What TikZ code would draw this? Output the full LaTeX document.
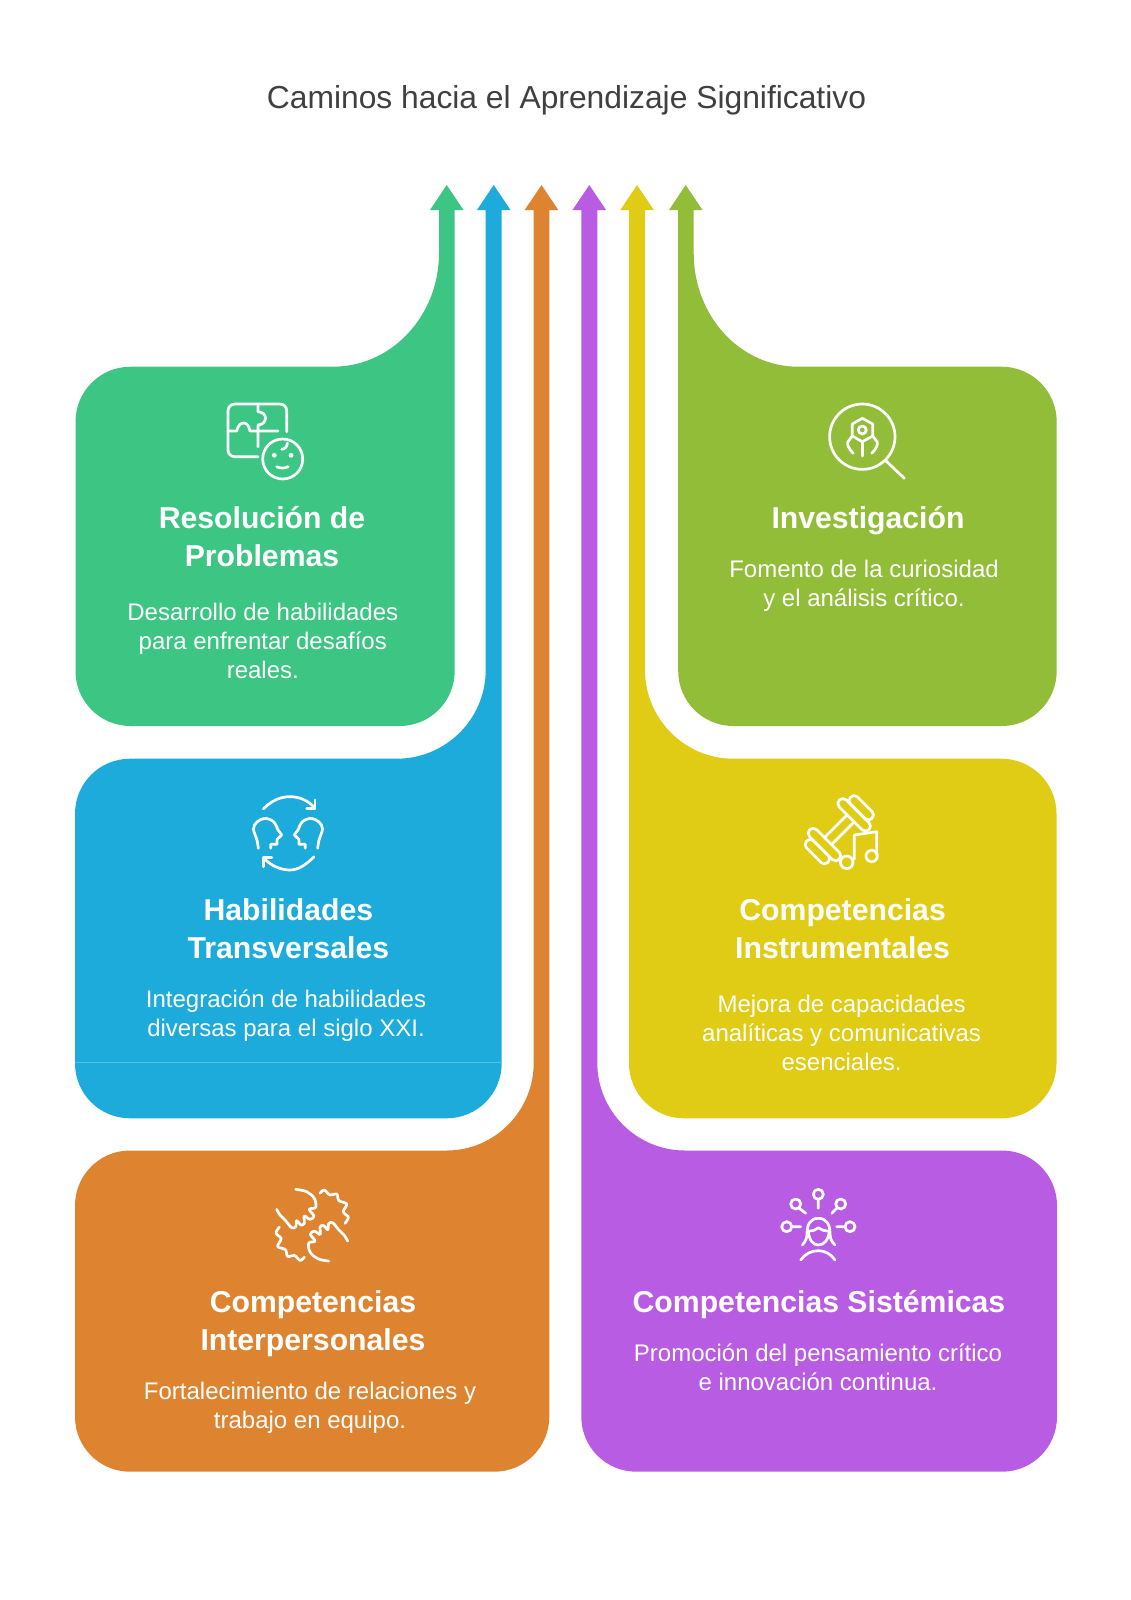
\documentclass[tikz,border=0pt]{standalone}
\usepackage{fontspec}
\setmainfont{Liberation Sans}
\definecolor{boxgreen}{HTML}{3CC583}
\definecolor{boxblue}{HTML}{1DABDB}
\definecolor{boxorange}{HTML}{DE8431}
\definecolor{boxpurple}{HTML}{B75CE3}
\definecolor{boxyellow}{HTML}{E0CC14}
\definecolor{boxlime}{HTML}{92BD39}
\tikzset{
  titletext/.style={text=black!75,inner sep=0pt,font=\fontsize{31.8}{37}\selectfont},
  headtext/.style={text=white,inner sep=0pt,align=center,font=\bfseries\fontsize{30.2}{38.5}\selectfont},
  bodytext/.style={text=white,inner sep=0pt,align=center,font=\fontsize{24}{28.7}\selectfont},
  iconline/.style={draw=white,line width=2.7pt,line cap=round,line join=round},
}
\begin{document}
\begin{tikzpicture}[x=1pt,y=-1pt]
\useasboundingbox (0,0) rectangle (1131,1600);
\node[titletext] (title) at (566.5,100) {Caminos hacia el Aprendizaje Significativo};
% green shape
\fill[boxgreen] (446.7,185) -- (463.5,210) -- (454.7,210) [rounded corners=55pt] -- (454.7,726) -- (75.5,726) -- (75.5,366.7) [sharp corners] -- (333,366.7)
  .. controls (391.5,366.7) and (439,316) .. (439,253) -- (439,210) -- (430,210) -- cycle;
% blue shape
\fill[boxblue] (493.7,185) -- (510.5,210) -- (501.7,210) [rounded corners=55pt] -- (501.7,1118.3) -- (75,1118.3) -- (75,758.7) [sharp corners] -- (396.7,758.7)
  .. controls (445.8,758.7) and (485.7,719) .. (485.7,670) -- (485.7,210) -- (477,210) -- cycle;
\draw[white!25!boxblue,line width=0.8pt] (75,1062.3) -- (501.7,1062.3);
% orange shape
\fill[boxorange] (541.5,185) -- (558.3,210) -- (549.3,210) [rounded corners=55pt] -- (549.3,1471.7) -- (75,1471.7) -- (75,1150.5) [sharp corners] -- (446.7,1150.5)
  .. controls (494.6,1150.5) and (533.7,1111) .. (533.7,1063) -- (533.7,210) -- (524.7,210) -- cycle;
% purple shape
\fill[boxpurple] (589.3,185) -- (606,210) -- (597.3,210) -- (597.3,1063)
  .. controls (597.3,1111) and (636.5,1150.5) .. (685,1150.5) [rounded corners=55pt] -- (1057,1150.5) -- (1057,1471.7) -- (581.3,1471.7) [sharp corners] -- (581.3,210) -- (572.5,210) -- cycle;
% yellow shape
\fill[boxyellow] (637,185) -- (653.8,210) -- (645,210) -- (645,670)
  .. controls (645,719) and (685,758.7) .. (733,758.7) [rounded corners=55pt] -- (1056.5,758.7) -- (1056.5,1118.3) -- (629,1118.3) [sharp corners] -- (629,210) -- (620.3,210) -- cycle;
% lime shape
\fill[boxlime] (685.7,185) -- (702.5,210) -- (693.7,210) -- (693.7,253)
  .. controls (693.7,316) and (740,366.7) .. (798.3,366.7) [rounded corners=55pt] -- (1056.7,366.7) -- (1056.7,726) -- (678.2,726) [sharp corners] -- (678.2,210) -- (669,210) -- cycle;
% texts
\node[headtext] (reshead) at (262,536.5) {Resolución de\\Problemas};
\node[bodytext] (resbody) at (262.8,641) {Desarrollo de habilidades\\para enfrentar desafíos\\reales.};
\node[headtext] (habhead) at (288.4,928.5) {Habilidades\\Transversales};
\node[bodytext] (habbody) at (286,1015.5) {Integración de habilidades\\diversas para el siglo XXI.};
\node[headtext] (comhead) at (313,1323.5) {Competencias\\Interpersonales};
\node[bodytext] (combody) at (310,1408) {Fortalecimiento de relaciones y\\trabajo en equipo.};
\node[headtext] (invhead) at (868,520.5) {Investigación};
\node[bodytext] (invbody) at (864,586) {Fomento de la curiosidad\\y el análisis crítico.};
\node[headtext] (inshead) at (842.6,928.5) {Competencias\\Instrumentales};
\node[bodytext] (insbody) at (841.6,1033) {Mejora de capacidades\\analíticas y comunicativas\\esenciales.};
\node[headtext] (sishead) at (819,1305) {Competencias Sistémicas};
\node[bodytext] (sisbody) at (818,1367.5) {Promoción del pensamiento crítico\\e innovación continua.};
% puzzle and face
\draw[iconline] (286.7,431.7) -- (286.7,411) .. controls (286.7,407) and (284,404) .. (280,404) -- (235,404) .. controls (231,404) and (228,407) .. (228,411) -- (228,450) .. controls (228,454) and (231,456.7) .. (235,456.7) -- (258,456.7);
\draw[iconline] (228,431) -- (236.7,431) .. controls (238,425) and (241,423) .. (243.5,423) .. controls (247,423) and (249,426) .. (250,431) -- (278,431);
\draw[iconline] (258,446.7) -- (258,425) .. controls (263,425) and (265.5,421) .. (265.5,418) .. controls (265.5,415) and (263,412) .. (258,411.7) -- (258,404);
\draw[iconline] (282.7,459) circle (20);
\fill[white] (274.3,455.3) circle (2.4) (291,455.3) circle (2.4);
\draw[iconline] (276.7,466.7) .. controls (280,468.5) and (285,468.5) .. (288.3,466.7);
\draw[iconline] (281.7,449.3) .. controls (285,449) and (287.5,446.5) .. (287.3,443);
% magnifier and virus
\draw[iconline] (862.3,436.7) circle (32.7);
\draw[iconline] (885,460) -- (904.3,478.3);
\draw[iconline] (862.3,418.3) -- (872.7,424) -- (872.7,436) -- (862.3,441.7) -- (852.3,436) -- (852.3,424) -- cycle;
\draw[iconline] (862.3,430) circle (4);
\draw[iconline] (862.3,441.7) -- (862.3,456);
\draw[iconline] (872.7,436) -- (877.3,442) .. controls (878,445) and (876,449) .. (871.7,453.3);
\draw[iconline] (852.3,436) -- (847.7,442) .. controls (847,445) and (849,449) .. (853.3,453.3);
% two heads with arrows
\foreach \side in {1,-1}{
\begin{scope}[shift={(288,0)},xscale=\side,shift={(-288,0)}]
\draw[iconline] plot[smooth,tension=0.6] coordinates {(258.3,848.3) (257,840) (253.5,829) (257,822) (265,818.3) (274,822) (277.5,829) (281.7,835)} -- (277,839.5) -- (277,844.3) -- (270.7,844.3) -- (270.7,848.3);
\end{scope}
}
\draw[iconline] (263.3,809) .. controls (272,800) and (281,796.7) .. (290,796.7) .. controls (299,796.7) and (308,800) .. (315,808.3);
\draw[iconline] (315,800) -- (315,808.3) -- (306.7,808.3);
\draw[iconline] (314,856.7) .. controls (306,865) and (298,870) .. (290,870) .. controls (281,870) and (271,866) .. (263.3,857.7);
\draw[iconline] (263.3,866.7) -- (263.3,857.7) -- (271.7,857.7);
% dumbbell and note
\begin{scope}[shift={(839.3,829.7)},rotate=45]
\draw[iconline] (-16,-5) -- (16,-5) (-16,5) -- (16,5);
\draw[iconline,rounded corners=5pt] (16,-21) rectangle (26,21);
\draw[iconline,rounded corners=4.5pt] (26,-15) rectangle (36,15);
\draw[iconline,rounded corners=5pt] (-16,-21) rectangle (-26,21);
\draw[iconline,rounded corners=4.5pt] (-26,-15) rectangle (-36,15);
\end{scope}
\draw[iconline] (854.3,859) -- (854.3,835) -- (876.7,831.7) -- (876.7,855);
\draw[iconline] (846.7,862.3) circle (6.3);
\draw[iconline] (871.7,856) circle (5.7);
% two hands
\foreach \ang in {0,180}{
\draw[iconline,rotate around={\ang:(312.2,1225.2)}] plot[smooth,tension=0.6] coordinates {(276.7,1209.3) (280,1215) (285.7,1220.7) (291.7,1227.7) (295.7,1226.7) (296.7,1220.7) (301,1225) (304.3,1223.3) (304.3,1216) (310,1219.3) (314,1216) (309.3,1209.3) (315.7,1207.3) (314.3,1198.3) (306.7,1191.7) (295.7,1189.3)};
\draw[iconline,rotate around={\ang:(312.2,1225.2)}] plot[smooth,tension=0.6] coordinates {(320,1193.3) (324.3,1190) (330,1195) (336.7,1194) (339,1200.7) (346.7,1204) (343.3,1211.7) (348.3,1217.3) (345,1223.3)};
}
% person and pins
\draw[iconline] (818.3,1194.3) circle (5) (818.3,1199.5) -- (818.3,1208.3);
\draw[iconline] (795.7,1204) circle (5) (799.3,1208.3) -- (805.7,1213.3);
\draw[iconline] (840.7,1204) circle (5) (836.7,1208.3) -- (831.7,1213.3);
\draw[iconline] (786.7,1226.7) circle (5) (792,1226.7) -- (800.7,1226.7);
\draw[iconline] (850,1226.7) circle (5) (844.7,1226.7) -- (836.7,1226.7);
\draw[iconline] (802.3,1245) .. controls (806,1241) and (807,1238) .. (807,1233) .. controls (807,1224) and (811,1218.3) .. (818.3,1218.3) .. controls (826,1218.3) and (830,1224) .. (830,1233) .. controls (830,1238) and (831,1241) .. (835,1245);
\draw[iconline] (808.3,1231) .. controls (813,1231) and (816,1230) .. (818.3,1227.7) .. controls (821,1230) and (824,1231) .. (829.3,1231);
\draw[iconline] (808.3,1231) .. controls (809,1240) and (813,1245) .. (818.3,1245) .. controls (824,1245) and (828.5,1240) .. (829.3,1231);
\draw[iconline] (800.7,1260) .. controls (805,1254) and (811,1250.7) .. (818.3,1250.7) .. controls (825,1250.7) and (831,1254) .. (835,1260);
\end{tikzpicture}
\end{document}
